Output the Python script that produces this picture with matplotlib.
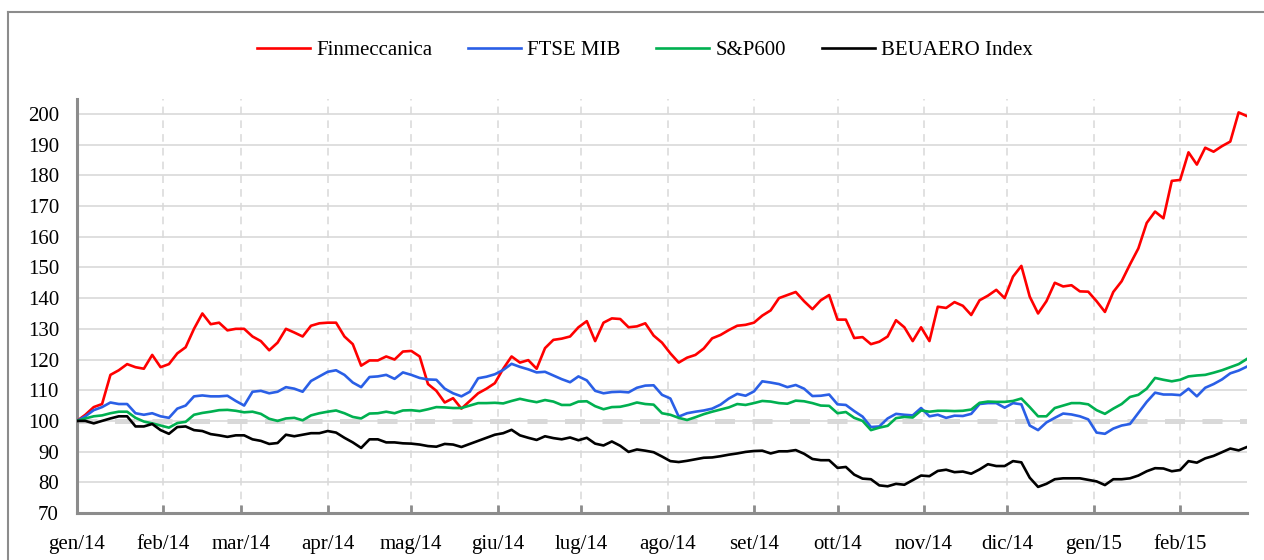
import pandas as pd
import matplotlib
matplotlib.use("Agg")
import matplotlib.pyplot as plt
from matplotlib.lines import Line2D

plt.rcParams['font.family'] = ['Liberation Serif', 'DejaVu Serif']

# one reading every 3 days, rebased to 100 at the start of 2014
dates = pd.date_range('2014-01-01', periods=141, freq='3D')

finmeccanica = [
    100, 102, 104.5, 105.5, 115, 116.5, 118.5, 117.5, 117, 121.5,
    117.5, 118.5, 122, 124, 130, 135, 131.5, 132, 129.5, 130,
    130, 127.5, 126, 123, 125.5, 130, 128.8, 127.5, 131, 131.8,
    132, 132, 127.5, 125, 118, 119.7, 119.7, 121, 120, 122.6,
    122.8, 121, 112, 109.8, 106, 107.4, 104, 106.5, 109, 110.5,
    112.3, 117, 121, 119, 119.8, 117, 123.7, 126.4, 126.8, 127.5,
    130.5, 132.5, 126, 132, 133.4, 133.2, 130.5, 130.8, 131.8, 127.8,
    125.5, 122, 119, 120.6, 121.5, 123.6, 126.9, 128, 129.6, 131,
    131.3, 132, 134.3, 136, 140, 141, 142, 139, 136.4, 139.3,
    141, 133, 133, 127, 127.3, 125, 125.8, 127.5, 132.8, 130.5,
    126, 130.5, 126, 137.2, 136.8, 138.7, 137.5, 134.5, 139.3, 140.8,
    142.7, 140, 147, 150.5, 140.5, 135, 139, 145, 143.8, 144.2,
    142.2, 142.1, 139, 135.5, 142, 145.5, 151, 156.2, 164.5, 168.2,
    166, 178.2, 178.5, 187.5, 183.5, 189, 187.7, 189.5, 191, 200.5,
    199.3,
]
ftse_mib = [
    100, 101.5, 103.5, 104.5, 106, 105.5, 105.5, 102.5, 102, 102.5,
    101.5, 101, 104, 105, 108, 108.3, 108, 108, 108.2, 106.5,
    105, 109.5, 109.8, 109, 109.5, 111, 110.5, 109.5, 113, 114.5,
    116, 116.5, 115, 112.5, 111, 114.3, 114.5, 115, 113.7, 115.8,
    115, 114, 113.5, 113.4, 110.5, 109, 108, 109.5, 113.9, 114.4,
    115.2, 116.6, 118.6, 117.6, 116.8, 115.8, 116, 114.8, 113.6, 112.6,
    114.5, 113.2, 109.8, 109, 109.4, 109.5, 109.3, 110.8, 111.5, 111.6,
    108.5, 107.3, 101.4, 102.5, 103, 103.4, 104, 105.3, 107.3, 108.8,
    108.2, 109.6, 112.9, 112.5, 112, 111, 111.7, 110.5, 108.1, 108.2,
    108.6, 105.4, 105.2, 103.2, 101.4, 98, 98.2, 100.8, 102.3, 102,
    101.8, 104.2, 101.5, 102, 101, 101.7, 101.6, 102.3, 105.5, 105.8,
    105.8, 104.3, 105.8, 105.4, 98.5, 97, 99.5, 101, 102.4, 102.1,
    101.5, 100.5, 96.2, 95.8, 97.5, 98.5, 99, 102.6, 106.2, 109.2,
    108.6, 108.6, 108.4, 110.5, 108, 110.8, 112, 113.5, 115.5, 116.4,
    117.7,
]
sp600 = [
    100, 100.8, 101.5, 101.8, 102.5, 103, 103, 101, 99.8, 99.2,
    98.5, 97.8, 99.3, 99.7, 102, 102.6, 103, 103.5, 103.6, 103.3,
    102.8, 103, 102.3, 100.7, 100, 100.8, 101, 100.2, 101.8, 102.5,
    103, 103.4, 102.5, 101.3, 100.8, 102.4, 102.5, 103, 102.5, 103.4,
    103.5, 103.2, 103.8, 104.5, 104.4, 104.2, 104.2, 105, 105.8, 105.8,
    105.9, 105.7, 106.5, 107.2, 106.6, 106.1, 106.8, 106.3, 105.2, 105.2,
    106.3, 106.4, 104.8, 103.8, 104.5, 104.6, 105.2, 106, 105.5, 105.3,
    102.5, 102, 101, 100.3, 101.2, 102.2, 103, 103.7, 104.4, 105.5,
    105.2, 105.8, 106.5, 106.3, 105.8, 105.6, 106.6, 106.4, 105.8, 105,
    104.9, 102.5, 102.9, 101, 100, 97, 97.8, 98.4, 100.9, 101.3,
    101.1, 103.4, 103, 103.3, 103.3, 103.2, 103.3, 103.7, 105.9, 106.3,
    106.2, 106.2, 106.5, 107.3, 104.5, 101.5, 101.5, 104.2, 105, 105.8,
    105.8, 105.4, 103.5, 102.3, 104, 105.5, 107.8, 108.5, 110.5, 114,
    113.4, 112.9, 113.4, 114.5, 114.8, 115, 115.7, 116.5, 117.5, 118.5,
    120.2,
]
beuaero = [
    100, 100, 99.2, 100, 100.8, 101.5, 101.5, 98.2, 98.2, 99,
    97, 95.8, 98, 98.2, 97, 96.7, 95.7, 95.3, 94.8, 95.3,
    95.3, 94, 93.5, 92.5, 92.8, 95.5, 95, 95.5, 96, 96,
    96.7, 96.2, 94.5, 93, 91.2, 94, 94, 93, 93, 92.7,
    92.6, 92.3, 91.8, 91.6, 92.5, 92.3, 91.5, 92.5, 93.5, 94.5,
    95.5, 96, 97.1, 95.3, 94.5, 93.8, 95, 94.4, 94, 94.6,
    93.7, 94.5, 92.6, 92, 93.3, 91.9, 89.9, 90.7, 90.3, 89.8,
    88.4, 86.9, 86.6, 87, 87.5, 88, 88.1, 88.5, 89, 89.4,
    89.9, 90.2, 90.3, 89.4, 90.1, 90.1, 90.5, 89.3, 87.6, 87.2,
    87.2, 84.7, 85, 82.5, 81.2, 81, 79, 78.7, 79.5, 79.2,
    80.7, 82.2, 82, 83.7, 84.1, 83.3, 83.5, 82.8, 84.2, 85.9,
    85.3, 85.3, 86.9, 86.5, 81.5, 78.5, 79.5, 81, 81.3, 81.3,
    81.3, 80.8, 80.3, 79.1, 81, 81, 81.3, 82.2, 83.6, 84.6,
    84.5, 83.6, 84, 86.9, 86.4, 87.8, 88.6, 89.8, 91, 90.4,
    91.5,
]

series_names = ['Finmeccanica', 'FTSE MIB', 'S&P600', 'BEUAERO Index']
series_colors = ['#ff0000', '#2a5fe6', '#00b050', '#000000']

month_starts = pd.date_range('2014-01-01', '2015-02-01', freq='MS')
month_labels = ['gen/14', 'feb/14', 'mar/14', 'apr/14', 'mag/14', 'giu/14', 'lug/14',
                'ago/14', 'set/14', 'ott/14', 'nov/14', 'dic/14', 'gen/15', 'feb/15']

W, H = 1264, 560
fig = plt.figure(figsize=(W / 100, H / 100), dpi=100)
ax = fig.add_axes([77 / W, 47 / H, (1247 - 77) / W, (513 - 98.6) / H])

grid_col = '#d9d9d9'
axis_col = '#8c8c8c'

# base 100 reference
ax.axhline(100, color=grid_col, lw=3.6, linestyle=(0, (4, 3.5)), zorder=1.5)

values = [finmeccanica, ftse_mib, sp600, beuaero]
for name, vals, col in zip(series_names, values, series_colors):
    ax.plot(dates, vals, color=col, lw=1.9, label=name, zorder=3)

ax.set_xlim(dates[0], dates[-1])
ax.set_ylim(70, 205)
ax.set_yticks(range(70, 201, 10))
ax.set_xticks(month_starts)
ax.set_xticklabels(month_labels)

ax.grid(axis='y', color=grid_col, lw=1.2, zorder=0)
ax.grid(axis='x', color=grid_col, lw=1.1, linestyle=(0, (5, 4)), zorder=0)
ax.set_axisbelow(True)

for s in ['top', 'right']:
    ax.spines[s].set_visible(False)
for s in ['left', 'bottom']:
    ax.spines[s].set_color(axis_col)
    ax.spines[s].set_linewidth(2.2)

ax.tick_params(axis='x', direction='in', length=6, width=2, color=axis_col,
               pad=16, labelsize=15)
ax.tick_params(axis='y', length=0, pad=13, labelsize=15)

ax.legend(loc='center', bbox_to_anchor=(645 / W, 1 - 50 / H), bbox_transform=fig.transFigure,
          ncol=4, frameon=False, fontsize=15, handlelength=2.55, columnspacing=1.7,
          handletextpad=0.3)

# chart frame (top and left edges visible)
fig.add_artist(Line2D([8 / W, 1], [1 - 12 / H, 1 - 12 / H], transform=fig.transFigure,
                      color=axis_col, lw=1.5))
fig.add_artist(Line2D([8 / W, 8 / W], [0, 1 - 12 / H], transform=fig.transFigure,
                      color=axis_col, lw=1.5))

fig.savefig('out.png', dpi=100)
